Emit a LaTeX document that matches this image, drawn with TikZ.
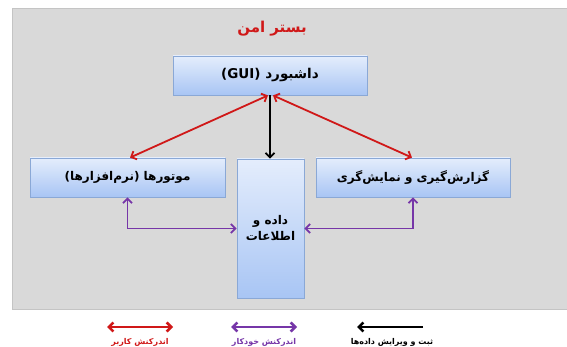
\documentclass[tikz,border=0pt]{standalone}
\usepackage{fontspec}
\newfontfamily\arabicfont[Script=Arabic]{DejaVu Sans}
\TeXXeTstate=1
\usetikzlibrary{arrows.meta,shadows}

\newcommand{\fa}[1]{\beginR #1\endR}

\definecolor{panelgray}{HTML}{D9D9D9}
\definecolor{panelline}{HTML}{C4C4C4}
\definecolor{boxtop}{HTML}{E4EDFC}
\definecolor{boxbottom}{HTML}{A8C5F4}
\definecolor{boxline}{HTML}{8AA8D6}
\definecolor{userred}{HTML}{D01818}
\definecolor{autopurple}{HTML}{7636A8}

\tikzset{
  modbox/.style={draw=boxline, line width=0.8pt, top color=boxtop, bottom color=boxbottom,
    drop shadow={shadow xshift=1pt, shadow yshift=-1.2pt, opacity=0.3},
    font=\arabicfont\bfseries\fontsize{12}{16}\selectfont, inner sep=0pt, align=center},
  userlink/.style={userred, line width=1.8pt, {Straight Barb[length=4.5pt,width=9pt]}-{Straight Barb[length=4.5pt,width=9pt]}},
  autolink/.style={autopurple, line width=1.8pt, {Straight Barb[length=4.5pt,width=9pt]}-{Straight Barb[length=4.5pt,width=9pt]}},
  datalink/.style={black, line width=1.8pt, -{Straight Barb[length=4.5pt,width=9pt]}},
  legendlbl/.style={font=\arabicfont\bfseries\fontsize{8}{9}\selectfont, inner sep=0pt}
}

\begin{document}
\begin{tikzpicture}[x=1pt, y=-1pt]
  \useasboundingbox (0,0) rectangle (567,347);

  % secure platform panel
  \fill[panelgray, draw=panelline] (12,8) rectangle (570,309);
  \node[userred, font=\arabicfont\bfseries\fontsize{15}{17}\selectfont] (title) at (272,29) {\fa{بستر امن}};

  % modules
  \node[modbox, minimum width=194pt, minimum height=39pt, font=\arabicfont\bfseries\fontsize{13.5}{16}\selectfont] (gui) at (270,75.5)
    {(GUI) \fa{داشبورد}};
  \node[modbox, minimum width=195pt, minimum height=39pt] (motors) at (127.5,177.5)
    {\fa{موتورها (نرم‌افزارها)}};
  \node[modbox, minimum width=67pt, minimum height=139pt] (data) at (270.5,228.5)
    {\fa{داده و}\\\fa{اطلاعات}};
  \node[modbox, minimum width=194pt, minimum height=39pt] (report) at (413,177.5)
    {\fa{گزارش‌گیری و نمایش‌گری}};

  % links
  \draw[userlink] ([xshift=2.5pt]motors.north) -- ([xshift=-2pt]gui.south);
  \draw[userlink] ([xshift=3pt]gui.south) -- ([xshift=-1pt]report.north);
  \draw[datalink] (gui.south) -- (gui.south |- data.north);
  \draw[autolink] (motors.south) |- (data.west);
  \draw[autolink] (data.east) -| (report.south);

  % legend
  \coordinate (usera) at (107,327);
  \coordinate (userb) at (173,327);
  \coordinate (autoa) at (231,327);
  \coordinate (autob) at (297,327);
  \coordinate (dataa) at (423,327);
  \coordinate (datab) at (357,327);
  \draw[userlink, line width=2.6pt] (usera) -- (userb);
  \draw[autolink, line width=2.6pt] (autoa) -- (autob);
  \draw[datalink, line width=2.6pt] (dataa) -- (datab);
  \node[legendlbl, userred] (userlbl) at (140,342) {\fa{اندرکنش کاربر}};
  \node[legendlbl, autopurple] (autolbl) at (264,342) {\fa{اندرکنش خودکار}};
  \node[legendlbl] (datalbl) at (392,342) {\fa{ثبت و ویرایش داده‌ها}};
\end{tikzpicture}
\end{document}
